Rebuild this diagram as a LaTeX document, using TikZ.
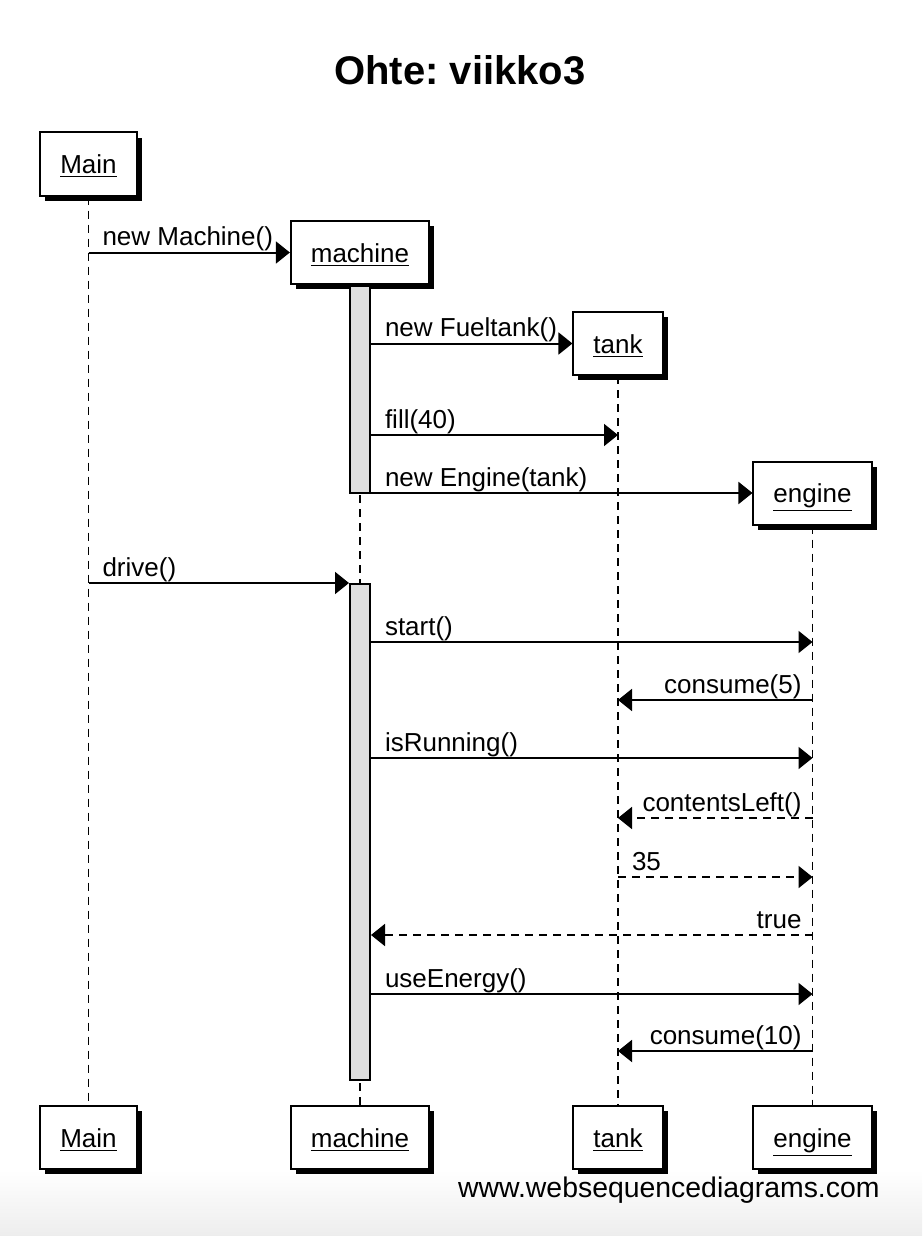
\documentclass[tikz,border=0pt]{standalone}
\usepackage{fontspec}
\setmainfont{Liberation Sans}
\usetikzlibrary{arrows.meta,positioning,shadows}

\begin{document}
\begin{tikzpicture}[x=0.5pt,y=-0.5pt,
  objbox/.style={draw=black, line width=1pt, fill=white, minimum height=31.5pt, inner xsep=10pt,
    text height=12.5pt, text depth=3pt, font=\fontsize{13}{15}\selectfont,
    drop shadow={shadow xshift=2.5pt, shadow yshift=-2.5pt, fill=black, opacity=1}},
  lifeline/.style={black, line width=0.9pt, dash pattern=on 4pt off 3pt},
  actbar/.style={draw=black, line width=1pt, fill=gray!25, minimum width=10pt, inner sep=0pt, anchor=north},
  msg/.style={black, line width=1pt, -{Triangle[length=7pt,width=11pt]}},
  reply/.style={msg, dash pattern=on 4pt off 3pt},
  lbl/.style={font=\fontsize{13}{15}\selectfont, inner sep=0pt},
  lblL/.style={lbl, pos=0, anchor=base west, xshift=6.5pt, yshift=3.5pt},
  lblR/.style={lbl, pos=0, anchor=base east, xshift=-5pt, yshift=3.5pt}]
\useasboundingbox (0,0) rectangle (922,1236);
\shade[top color=white, bottom color=black!7] (0,1170) rectangle (922,1236);

\node[font=\bfseries\fontsize{20}{24}\selectfont, anchor=base] (title) at (460,85) {Ohte:\ viikko3};

\node[objbox] (mainT) at (88.5,164) {\underline{Main}};
\node[objbox] (machineT) at (360,252.5) {\underline{machine}};
\node[objbox] (tankT) at (618,343.5) {\underline{tank}};
\node[objbox] (engineT) at (812.5,493) {\underline{engine}};
\node[objbox] (mainB) at (88.5,1137.5) {\underline{Main}};
\node[objbox] (machineB) at (360,1137.5) {\underline{machine}};
\node[objbox] (tankB) at (618,1137.5) {\underline{tank}};
\node[objbox] (engineB) at (812.5,1137.5) {\underline{engine}};

\draw[lifeline] (mainT.south) -- (mainB.north);
\draw[lifeline] (machineT.south) -- (machineB.north);
\draw[lifeline] (tankT.south) -- (tankB.north);
\draw[lifeline] (engineT.south) -- (engineB.north);

\coordinate (yFill) at (0,435);
\coordinate (yDrive) at (0,583);
\coordinate (yStart) at (0,642);
\coordinate (yConsumeA) at (0,700);
\coordinate (yRunning) at (0,758);
\coordinate (yLeft) at (0,818);
\coordinate (yAnswer) at (0,877);
\coordinate (yTrue) at (0,935);
\coordinate (yEnergy) at (0,994);
\coordinate (yConsumeB) at (0,1051);

\node[actbar, minimum height=103.5pt] (act1) at (machineT.south) {};
\node[actbar, minimum height=248pt] (act2) at (machineT.south |- yDrive) {};

\draw[msg] (mainT.south |- machineT.west) -- (machineT.west) node[lblL] {new Machine()};
\draw[msg] (act1.east |- tankT.west) -- (tankT.west) node[lblL] {new Fueltank()};
\draw[msg] (act1.east |- yFill) -- (tankT.south |- yFill) node[lblL] {fill(40)};
\draw[msg] (act1.east |- engineT.west) -- (engineT.west) node[lblL] {new Engine(tank)};
\draw[msg] (mainT.south |- yDrive) -- (act2.north west) node[lblL] {drive()};
\draw[msg] (act2.east |- yStart) -- (engineT.south |- yStart) node[lblL] {start()};
\draw[msg] (engineT.south |- yConsumeA) -- (tankT.south |- yConsumeA) node[lblR] {consume(5)};
\draw[msg] (act2.east |- yRunning) -- (engineT.south |- yRunning) node[lblL] {isRunning()};
\draw[reply] (engineT.south |- yLeft) -- (tankT.south |- yLeft) node[lblR] {contentsLeft()};
\draw[reply] (tankT.south |- yAnswer) -- (engineT.south |- yAnswer) node[lblL] {35};
\draw[reply] (engineT.south |- yTrue) -- (act2.east |- yTrue) node[lblR] {true};
\draw[msg] (act2.east |- yEnergy) -- (engineT.south |- yEnergy) node[lblL] {useEnergy()};
\draw[msg] (engineT.south |- yConsumeB) -- (tankT.south |- yConsumeB) node[lblR] {consume(10)};

\node[lbl, font=\fontsize{14.2}{16}\selectfont, anchor=base east] (footer) at (880,1197) {www.websequencediagrams.com};
\end{tikzpicture}
\end{document}
